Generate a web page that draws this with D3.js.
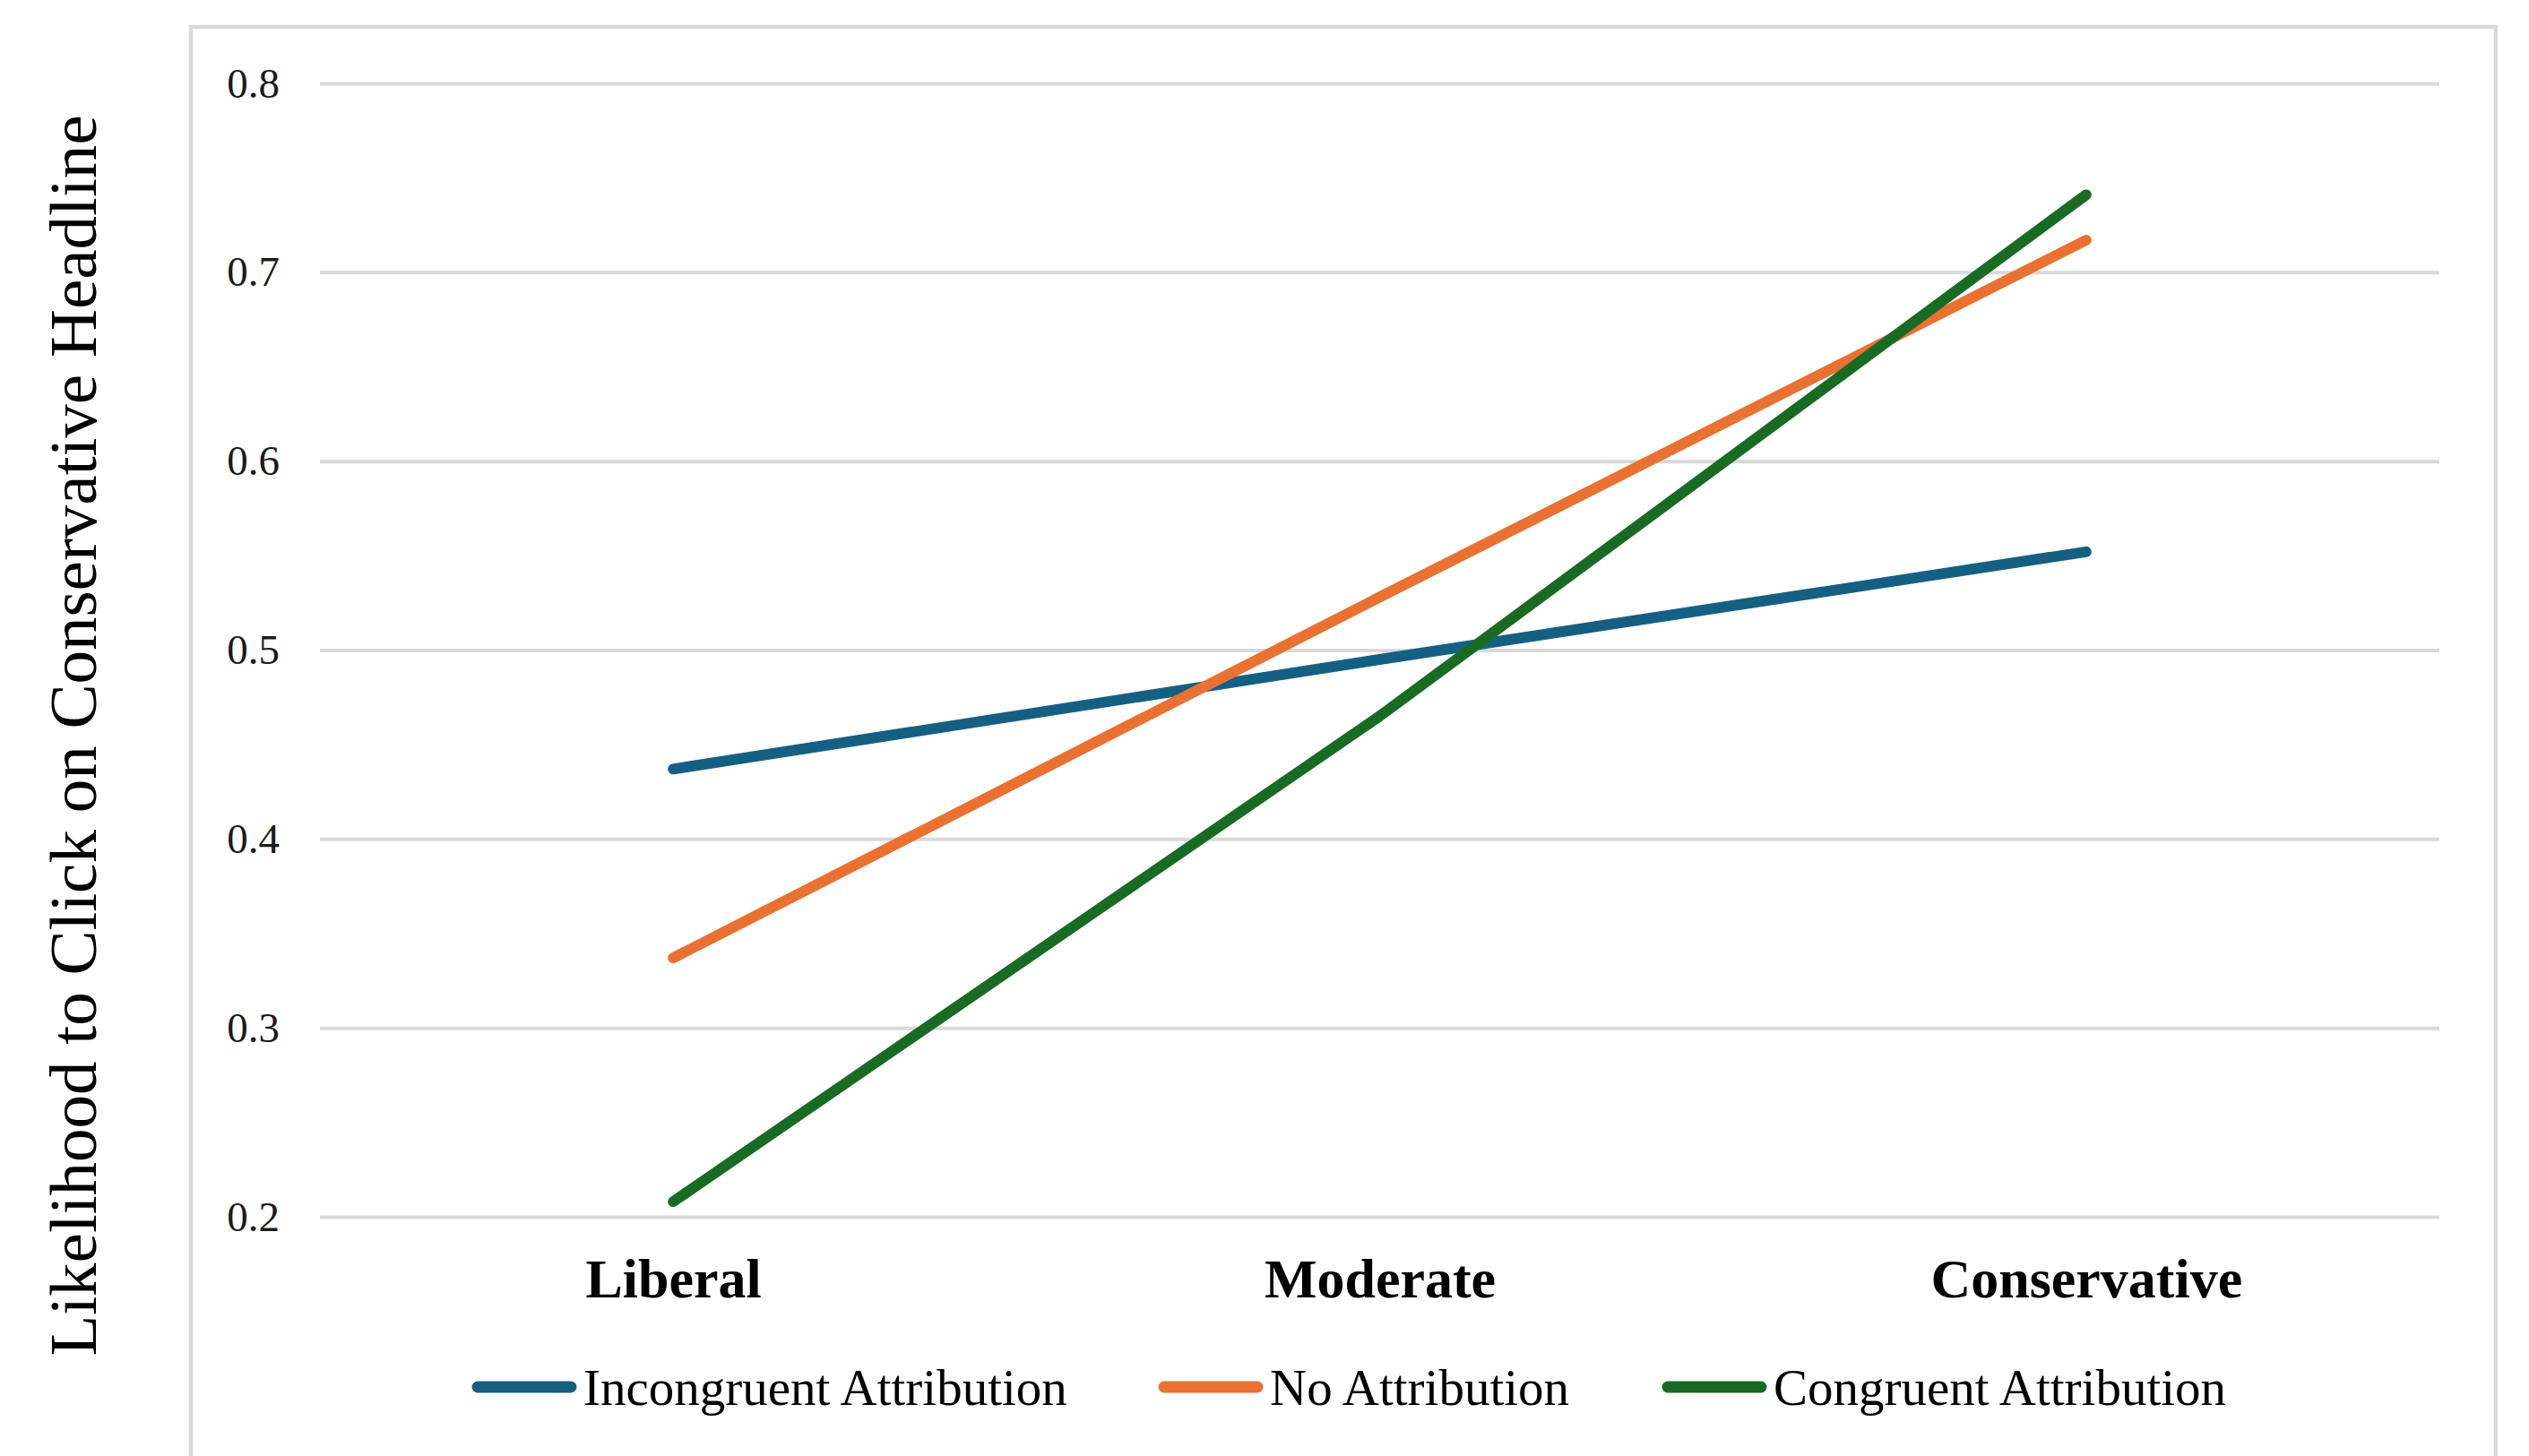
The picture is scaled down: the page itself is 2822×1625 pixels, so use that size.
<!DOCTYPE html>
<html>
<head>
<meta charset="utf-8">
<script src="https://cdn.jsdelivr.net/npm/d3@7"></script>
<style>
  html, body { margin: 0; padding: 0; background: #ffffff; }
  svg { display: block; }
  text { font-family: "Liberation Serif", "Times New Roman", serif; }
</style>
</head>
<body>
<svg id="chart" width="2822" height="1625"></svg>
<script>
// Ideology groups along the x axis
const categories = ["Liberal", "Moderate", "Conservative"];

// Likelihood of clicking on a conservative headline, per attribution condition
const incongruent = [0.437, 0.495, 0.552];
const noAttribution = [0.337, 0.528, 0.717];
const congruent = [0.208, 0.465, 0.741];

const seriesNames = ["Incongruent Attribution", "No Attribution", "Congruent Attribution"];
const seriesColors = ["#156082", "#E97132", "#196B24"];
const yTicks = [0.2, 0.3, 0.4, 0.5, 0.6, 0.7, 0.8];
const yTitle = "Likelihood to Click on Conservative Headline";

const series = [incongruent, noAttribution, congruent].map((values, i) => ({
  name: seriesNames[i],
  color: seriesColors[i],
  values
}));

const svg = d3.select("#chart");

// Outer chart border
svg.append("rect")
  .attr("x", 213).attr("y", 30)
  .attr("width", 2785 - 213).attr("height", 1700)
  .attr("fill", "none")
  .attr("stroke", "#d9d9d9")
  .attr("stroke-width", 4.5);

const plot = { left: 357, right: 2722, top: 93, bottom: 1358 };

const x = d3.scalePoint()
  .domain(categories)
  .range([plot.left, plot.right])
  .padding(0.5);

const y = d3.scaleLinear()
  .domain([0.2, 0.8])
  .range([plot.bottom, plot.top]);

// Y axis with horizontal gridlines
const yAxis = svg.append("g")
  .attr("transform", `translate(${plot.left},0)`)
  .call(d3.axisLeft(y)
    .tickValues(yTicks)
    .tickFormat(d3.format(".1f"))
    .tickSizeInner(-(plot.right - plot.left))
    .tickSizeOuter(0)
    .tickPadding(45));

yAxis.select(".domain").remove();
yAxis.selectAll(".tick line")
  .attr("stroke", "#d9d9d9")
  .attr("stroke-width", 4);
yAxis.selectAll(".tick text")
  .attr("font-family", "Liberation Serif, Times New Roman, serif")
  .attr("font-size", 47)
  .attr("fill", "#1a1a1a");

// Category labels
const xAxis = svg.append("g")
  .attr("transform", `translate(0,${plot.bottom})`)
  .call(d3.axisBottom(x).tickSize(0).tickPadding(0));
xAxis.select(".domain").remove();
xAxis.selectAll(".tick text")
  .attr("font-family", "Liberation Serif, Times New Roman, serif")
  .attr("font-size", 62)
  .attr("font-weight", "bold")
  .attr("fill", "#000")
  .attr("dy", null)
  .attr("y", 90);

// Y axis title
svg.append("text")
  .attr("transform", "translate(107,821) rotate(-90)")
  .attr("text-anchor", "middle")
  .attr("font-size", 75)
  .attr("fill", "#000")
  .text(yTitle);

// Series lines
const line = d3.line()
  .x((d, i) => x(categories[i]))
  .y(d => y(d));

svg.append("g")
  .selectAll("path")
  .data(series)
  .join("path")
  .attr("d", d => line(d.values))
  .attr("fill", "none")
  .attr("stroke", d => d.color)
  .attr("stroke-width", 12)
  .attr("stroke-linecap", "round")
  .attr("stroke-linejoin", "round");

// Legend
const legendX = [533, 1299, 1861];
const legend = svg.append("g")
  .selectAll("g")
  .data(series)
  .join("g")
  .attr("transform", (d, i) => `translate(${legendX[i]},1548)`);

legend.append("line")
  .attr("x1", 0).attr("x2", 104)
  .attr("y1", 0).attr("y2", 0)
  .attr("stroke", d => d.color)
  .attr("stroke-width", 13)
  .attr("stroke-linecap", "round");

legend.append("text")
  .attr("x", 118)
  .attr("y", 20)
  .attr("font-size", 57)
  .attr("fill", "#000")
  .text(d => d.name);
</script>
</body>
</html>
